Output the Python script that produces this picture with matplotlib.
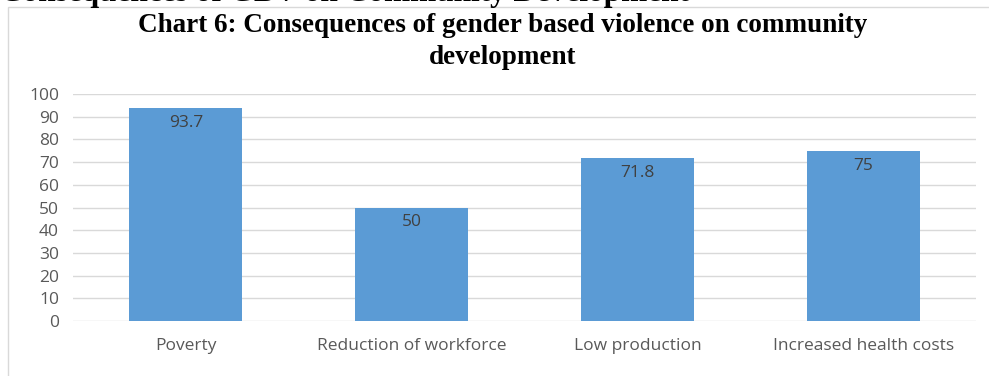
import matplotlib
matplotlib.use("Agg")
import matplotlib.pyplot as plt
from matplotlib.patches import Rectangle

categories = ["Poverty", "Reduction of workforce", "Low production", "Increased health costs"]
values = [93.7, 50, 71.8, 75]
yticks = [0, 10, 20, 30, 40, 50, 60, 70, 80, 90, 100]

W, H = 989, 376
fig = plt.figure(figsize=(W / 100, H / 100), dpi=100)

# chart frame (light grey border, cut by the page on right/bottom)
fig.patches.append(Rectangle((8 / W, -0.1), 1.2, 1 - 7 / H + 0.1, transform=fig.transFigure,
                             fill=False, edgecolor="#d9d9d9", linewidth=1.0))

# page heading, cropped by the top edge
fig.text(0.0, 1 - 1.5 / H, "Consequences of GBV on Community Development", ha="left", va="baseline",
         family="Liberation Serif", fontweight="bold", fontsize=22.5, color="black")

ax = fig.add_axes([73 / W, 1 - 321 / H, (976 - 73) / W, (321 - 94) / H])
x = range(len(categories))
bars = ax.bar(x, values, width=0.5, color="#5b9bd5", zorder=3)
for b, v in zip(bars, values):
    ax.text(b.get_x() + b.get_width() / 2, v - 6.5, "{:g}".format(v), ha="center", va="center",
            fontsize=12.5, color="#404040", family="Open Sans")

ax.set_xlim(-0.5, len(categories) - 0.5)
ax.set_ylim(0, 100)
ax.set_yticks(yticks)
ax.set_xticks(list(x))
ax.set_xticklabels(categories)
ax.grid(axis="y", color="#d9d9d9", linewidth=1.0, zorder=0)
for s in ax.spines.values():
    s.set_visible(False)
ax.tick_params(length=0, colors="#595959", labelsize=12.5)
ax.tick_params(axis="y", pad=10)
ax.tick_params(axis="x", pad=12)
for lab in ax.get_xticklabels() + ax.get_yticklabels():
    lab.set_family("Open Sans")

fig.text(503 / W, 1 - 26 / H, "Chart 6: Consequences of gender based violence on community",
         ha="center", va="center", family="Liberation Serif", fontweight="bold", fontsize=19.5)
fig.text(503 / W, 1 - 57 / H, "development",
         ha="center", va="center", family="Liberation Serif", fontweight="bold", fontsize=19.5)

fig.savefig("out.png", dpi=100)
